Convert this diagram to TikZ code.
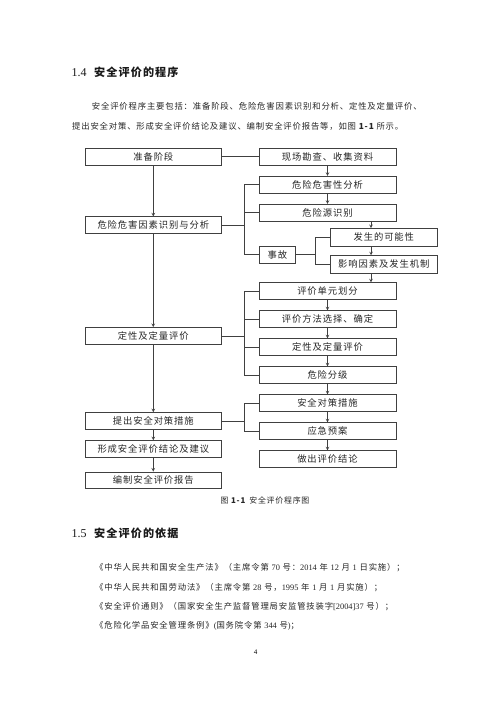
\documentclass[tikz,border=0pt]{standalone}
\usepackage{fontspec}
\setmainfont{Liberation Serif}
\newfontfamily\zh[LetterSpace=10]{Noto Sans CJK SC}
\newcommand{\rmnum}[1]{{\rmfamily #1}}
\usetikzlibrary{shapes,arrows,positioning,calc}

\begin{document}
\begin{tikzpicture}[
    x=1pt, y=-1pt,
    node distance=10.4pt and 0pt,
    mainbox/.style={rectangle, draw=black!75, line width=0.6pt, minimum width=136.7pt, minimum height=16.8pt, inner sep=0pt, text=black!85, font=\zh\fontsize{9.3}{10}\selectfont},
    subbox/.style={mainbox, minimum width=137pt, minimum height=17pt},
    sidebox/.style={mainbox, minimum width=107.7pt, minimum height=17.5pt},
    textline/.style={anchor=west, inner sep=0pt, text=black!85, font=\zh\fontsize{8.35}{10}\selectfont},
    heading/.style={anchor=west, inner sep=0pt, text=black!90, font=\fontsize{12}{14}\selectfont},
    arrow/.style={->, >=stealth, draw=black!75, line width=0.6pt},
    link/.style={draw=black!75, line width=0.6pt}
]
\fill[white] (0,0) rectangle (500,707);
\useasboundingbox (0,0) rectangle (500,707);

% ============ TEXTE ============
\node[heading] (sec-14) at (71.5,72) {1.4\hspace{7.5pt}{\zh\bfseries\fontsize{11.1}{13}\selectfont 安全评价的程序}};
\node[textline] (para-1) at (91.7,106.7) {安全评价程序主要包括：准备阶段、危险危害因素识别和分析、定性及定量评价、};
\node[textline] (para-2) at (72,126.7) {提出安全对策、形成安全评价结论及建议、编制安全评价报告等，如图 {\bfseries 1-1} 所示。};

% ============ COLONNE PRINCIPALE ============
\node[mainbox] (prep) at (153.3,156.7) {准备阶段};
\node[mainbox, below=51pt of prep] (hazard-id) {危险危害因素识别与分析};
\node[mainbox, below=93.3pt of hazard-id] (qual-eval) {定性及定量评价};
\node[mainbox, below=67.7pt of qual-eval] (measures) {提出安全对策措施};
\node[mainbox, below=10.6pt of measures] (conclusion) {形成安全评价结论及建议};
\node[mainbox, below=14pt of conclusion] (report) {编制安全评价报告};

% ============ DETAILS ============
\node[subbox] (survey) at (327.5,156.7) {现场勘查、收集资料};
\node[subbox, below=of survey] (hazard-anal) {危险危害性分析};
\node[subbox, below=of hazard-anal] (hazard-src) {危险源识别};

\node[mainbox, minimum width=36.4pt, minimum height=17.3pt] (accident) at (277.5,254.7) {事故};
\node[sidebox] (possibility) at (383.8,237.2) {发生的可能性};
\node[sidebox, below=9pt of possibility] (factors) {影响因素及发生机制};

\node[subbox] (unit) at (327.5,291.2) {评价单元划分};
\node[subbox, below=of unit] (method) {评价方法选择、确定};
\node[subbox, below=of method] (qual-eval-2) {定性及定量评价};
\node[subbox, below=of qual-eval-2] (grading) {危险分级};
\node[subbox, below=of grading] (safety) {安全对策措施};
\node[subbox, below=of safety] (emergency) {应急预案};
\node[subbox, below=of emergency] (conclude) {做出评价结论};

% ============ CONNEXIONS ============
% colonne principale
\draw[arrow] (prep) -- (hazard-id);
\draw[arrow] (hazard-id) -- (qual-eval);
\draw[arrow] (qual-eval) -- (measures);
\draw[arrow] (measures) -- (conclusion);
\draw[arrow] (conclusion) -- (report);
\draw[link] (prep) -- (survey);

% chaine de droite
\draw[arrow] (survey) -- (hazard-anal);
\draw[arrow] (hazard-anal) -- (hazard-src);
\coordinate (drop) at ($(possibility.north)+(-12.8,0)$);
\draw[arrow] (drop |- hazard-src.south) -- (drop);
\draw[arrow] (drop |- possibility.south) -- (drop |- factors.north);
\draw[arrow] (drop |- factors.south) -- (drop |- unit.north);
\draw[arrow] (unit) -- (method);
\draw[arrow] (method) -- (qual-eval-2);
\draw[arrow] (qual-eval-2) -- (grading);
\draw[arrow] (grading) -- (safety);
\draw[arrow] (safety) -- (emergency);
\draw[arrow] (emergency) -- (conclude);

% accolades
\coordinate (fork-hazard) at ($(hazard-id.east)+(22.5,0)$);
\draw[link] (hazard-id.east) -- (fork-hazard);
\draw[link] (fork-hazard |- hazard-anal.west) -- (fork-hazard |- accident.west);
\draw[link] (fork-hazard |- hazard-anal.west) -- (hazard-anal.west);
\draw[link] (fork-hazard |- hazard-src.west) -- (hazard-src.west);
\draw[link] (fork-hazard |- accident.west) -- (accident.west);

\coordinate (fork-accident) at ($(accident.east)+(19.3,0)$);
\draw[link] (accident.east) -- (fork-accident);
\draw[link] (fork-accident |- possibility.west) -- (fork-accident |- factors.west);
\draw[link] (fork-accident |- possibility.west) -- (possibility.west);
\draw[link] (fork-accident |- factors.west) -- (factors.west);

\coordinate (fork-eval) at ($(qual-eval.east)+(22.5,0)$);
\draw[link] (qual-eval.east) -- (fork-eval);
\draw[link] (fork-eval |- unit.west) -- (fork-eval |- grading.west);
\foreach \target in {unit, method, qual-eval-2, grading}
    \draw[link] (fork-eval |- \target.west) -- (\target.west);

\coordinate (fork-measures) at ($(measures.east)+(22.5,0)$);
\draw[link] (measures.east) -- (fork-measures);
\draw[link] (fork-measures |- safety.west) -- (fork-measures |- emergency.west);
\draw[link] (fork-measures |- safety.west) -- (safety.west);
\draw[link] (fork-measures |- emergency.west) -- (emergency.west);

% ============ LEGENDE ET SUITE ============
\node[inner sep=0pt, text=black!85, font=\zh\fontsize{7.9}{9}\selectfont] (fig-caption) at (265,500) {图 {\bfseries 1-1}\hspace{4pt}安全评价程序图};

\node[heading] (sec-15) at (71.5,533) {1.5\hspace{7.5pt}{\zh\bfseries\fontsize{11.1}{13}\selectfont 安全评价的依据}};
\node[textline] (basis-1) at (95,567.3) {《中华人民共和国安全生产法》（主席令第 \rmnum{70} 号：\rmnum{2014} 年 \rmnum{12} 月 \rmnum{1} 日实施）；};
\node[textline] (basis-2) at (95,587.3) {《中华人民共和国劳动法》（主席令第 \rmnum{28} 号，\rmnum{1995} 年 \rmnum{1} 月 \rmnum{1} 月实施）；};
\node[textline] (basis-3) at (95,606.7) {《安全评价通则》（国家安全生产监督管理局安监管技装字\rmnum{[2004]37} 号）；};
\node[textline] (basis-4) at (95,626) {《危险化学品安全管理条例》\rmnum{(}国务院令第 \rmnum{344} 号\rmnum{)}；};

\node[inner sep=0pt, font=\rmfamily\fontsize{7}{8}\selectfont] (page-num) at (255.7,651.7) {4};

\end{tikzpicture}
\end{document}
